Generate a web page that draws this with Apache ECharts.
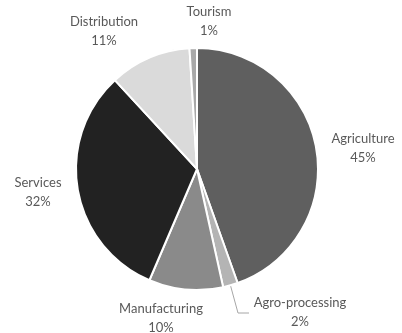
<!DOCTYPE html>
<html>
<head>
<meta charset="utf-8">
<script src="https://cdn.jsdelivr.net/npm/echarts@6/dist/echarts.min.js"></script>
<style>html,body{margin:0;padding:0;background:#fff;}#c{width:402px;height:333px;}</style>
</head>
<body>
<div id="c"></div>
<script>
const categories = ['Agriculture', 'Agro-processing', 'Manufacturing', 'Services', 'Distribution', 'Tourism'];
const values = [45, 2, 10, 32, 11, 1];
const colors = ['#5f5f5f', '#b4b4b4', '#8a8a8a', '#222222', '#dadada', '#a8a8a8'];
const labelPos = [[363, 148], [300, 312], [161, 318], [38, 192], [104, 31], [209, 21]];

const chart = echarts.init(document.getElementById('c'), null, {renderer: 'canvas'});
chart.setOption({
  animation: false,
  series: [{
    type: 'pie',
    center: [197, 169],
    radius: [0, 121],
    startAngle: 90,
    clockwise: true,
    avoidLabelOverlap: false,
    itemStyle: {borderColor: '#fff', borderWidth: 2},
    label: {
      show: true,
      position: 'outside',
      formatter: '{b}\n{c}%',
      fontFamily: 'Lato',
      fontSize: 13,
      lineHeight: 19,
      color: '#595959',
      align: 'center'
    },
    labelLine: {show: false},
    labelLayout: function (params) {
      const p = labelPos[params.dataIndex];
      const r = {x: p[0], y: p[1], align: 'center', verticalAlign: 'middle'};
      if (params.dataIndex === 1 && params.labelLinePoints) {
        r.labelLinePoints = [params.labelLinePoints[0], [238, 313], [249, 313]];
      }
      return r;
    },
    data: categories.map((n, i) => ({
      name: n,
      value: values[i],
      itemStyle: {color: colors[i]},
      labelLine: i === 1 ? {show: true, length: 10, length2: 10, lineStyle: {color: '#a6a6a6', width: 1}} : {show: false}
    }))
  }]
});
</script>
</body>
</html>
